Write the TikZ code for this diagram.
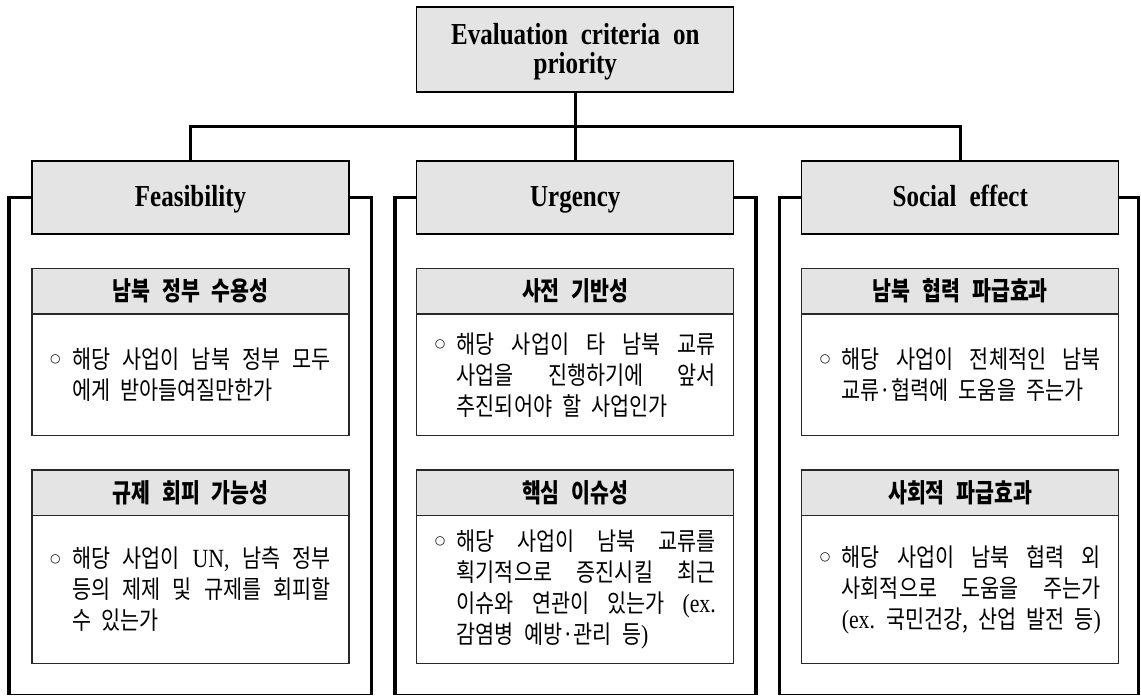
\documentclass[tikz,border=0pt]{standalone}
\usepackage{fontspec}
\setmainfont{Liberation Serif}
\newfontfamily\enbf{Liberation Serif}[FakeStretch=0.82]
\newfontfamily\krb{Noto Sans CJK KR}[FakeStretch=0.79]
\newfontfamily\kr{Noto Sans CJK KR}[FakeStretch=0.83]
\newfontfamily\lat{Liberation Serif}[FakeStretch=0.83,Scale=1.05]
\newfontfamily\sym{DejaVu Sans}
\definecolor{hdgray}{RGB}{228,228,228}
\definecolor{bordergray}{RGB}{40,40,40}
\newcommand\hsp{\hspace{12pt}}
\newcommand\enhsp{\hspace{13pt}}
\newcommand\fullline[1]{\makebox[\linewidth][s]{#1}}
\newcommand\bodytxt[1]{\makebox[22pt][l]{\raisebox{5.8pt}{\sym\fontsize{12}{12}\selectfont ○}}%
  \parbox[t]{259pt}{\kr\fontsize{25}{31}\selectfont\hyphenpenalty=10000\exhyphenpenalty=10000
  \spaceskip=10pt plus 12pt minus 4pt\relax #1}}
\tikzset{
  topbox/.style={draw=black, line width=1.3pt, fill=hdgray, minimum width=317pt,
    inner sep=0pt, align=center, font=\enbf\bfseries\fontsize{30.5}{29}\selectfont},
  rowbox/.style={topbox, minimum height=73pt, text height=24pt, text depth=5.6pt},
  hdbox/.style={draw=bordergray, line width=1.2pt, fill=hdgray, minimum width=317pt,
    minimum height=45.7pt, inner sep=0pt, font=\krb\bfseries\fontsize{26}{30}\selectfont},
  bodybox/.style={draw=bordergray, line width=1.2pt, minimum width=317pt, inner sep=0pt},
  conn/.style={line width=3pt},
  framev/.style={line width=3.2pt},
  frameb/.style={line width=1.5pt},
}
\begin{document}
\begin{tikzpicture}[x=1pt,y=-1pt]
\useasboundingbox (0,0) rectangle (1141,697);

% frame corners
\coordinate (fbl) at (9,694.5);
\coordinate (fbr) at (371.7,694.5);
\coordinate (ubl) at (395,694.5);
\coordinate (ubr) at (756,694.5);
\coordinate (sbl) at (779.5,694.5);
\coordinate (sbr) at (1138.5,694.5);

% main boxes
\node[topbox, minimum height=85pt] (top) at (575.3,49.5) {\rule{0pt}{26pt}Evaluation\enhsp criteria\enhsp on\\priority};
\node[rowbox] (feas) at (190.5,197.5) {Feasibility};
\node[rowbox] (urg) at (575.3,197.5) {Urgency};
\node[rowbox] (soc) at (960.3,197.5) {Social\enhsp effect};

% connectors
\coordinate (bus) at (575.3,126);
\draw[conn] (top.south) -- (urg.north);
\draw[conn] (feas.north) |- (bus) -| (soc.north);

% frames
\draw[framev] (feas.west) -| (fbl);
\draw[framev] (feas.east) -| (fbr);
\draw[frameb] ([xshift=-1.6pt]fbl) -- ([xshift=1.6pt]fbr);
\draw[framev] (urg.west) -| (ubl);
\draw[framev] (urg.east) -| (ubr);
\draw[frameb] ([xshift=-1.6pt]ubl) -- ([xshift=1.6pt]ubr);
\draw[framev] (soc.west) -| (sbl);
\draw[framev] (soc.east) -| (sbr);
\draw[frameb] ([xshift=-1.6pt]sbl) -- ([xshift=1.6pt]sbr);

% Feasibility column
\node[hdbox] (f1h) at (190.5,291.15) {남북\hsp 정부\hsp 수용성};
\node[bodybox, minimum height=121.7pt] (f1b) at (190.5,374.85)
  {\bodytxt{해당 사업이 남북 정부 모두\linebreak 에게 받아들여질만한가}};
\node[hdbox] (f2h) at (190.5,492.85) {규제\hsp 회피\hsp 가능성};
\node[bodybox, minimum height=147.6pt] (f2b) at (190.5,589.5)
  {\bodytxt{해당 사업이 {\lat UN,} 남측 정부\linebreak 등의 제제 및 규제를 회피할\linebreak 수 있는가}};

% Urgency column
\node[hdbox] (u1h) at (575.3,291.15) {사전\hsp 기반성};
\node[bodybox, minimum height=121.7pt] (u1b) at (575.3,374.85)
  {\bodytxt{해당 사업이 타 남북 교류\linebreak 사업을 진행하기에 앞서\linebreak 추진되어야 할 사업인가}};
\node[hdbox] (u2h) at (575.3,492.85) {핵심\hsp 이슈성};
\node[bodybox, minimum height=147.6pt] (u2b) at (575.3,589.5)
  {\bodytxt{해당 사업이 남북 교류를\linebreak 획기적으로 증진시킬 최근\linebreak 이슈와 연관이 있는가 {\lat (ex.}\linebreak 감염병 예방·관리 등{\lat )}}};

% Social effect column
\node[hdbox] (s1h) at (960.3,291.15) {남북\hsp 협력\hsp 파급효과};
\node[bodybox, minimum height=121.7pt] (s1b) at (960.3,374.85)
  {\bodytxt{해당 사업이 전체적인 남북\linebreak 교류·협력에 도움을 주는가}};
\node[hdbox] (s2h) at (960.3,492.85) {사회적\hsp 파급효과};
\node[bodybox, minimum height=147.6pt] (s2b) at (960.3,589.5)
  {\bodytxt{해당 사업이 남북 협력 외\linebreak 사회적으로 도움을 주는가\linebreak \fullline{{\lat (ex.} 국민건강, 산업 발전 등{\lat )}}}};
\end{tikzpicture}
\end{document}
